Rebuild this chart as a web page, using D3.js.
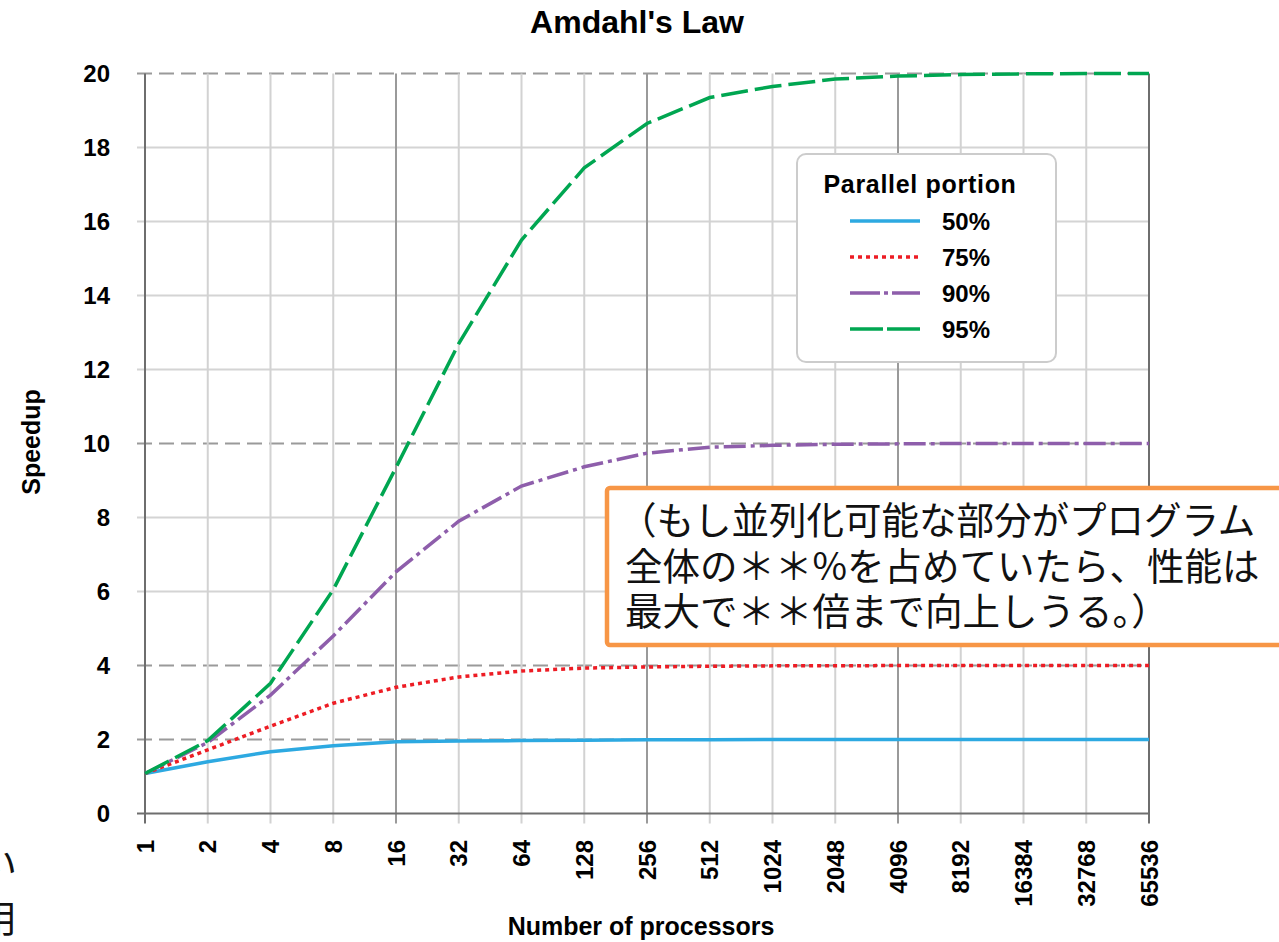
<!DOCTYPE html>
<html>
<head>
<meta charset="utf-8">
<script src="https://cdn.jsdelivr.net/npm/d3@7"></script>
<style>
  html, body { margin: 0; padding: 0; background: #fff; }
  svg { display: block; }
</style>
</head>
<body>
<svg id="chart" width="1279" height="942"></svg>
<script>
// ---- data ----
const processors = [1, 2, 4, 8, 16, 32, 64, 128, 256, 512, 1024, 2048, 4096, 8192, 16384, 32768, 65536];
const tickLabels = ["1","2","4","8","16","32","64","128","256","512","1024","2048","4096","8192","16384","32768","65536"];
const yTicks = [0, 2, 4, 6, 8, 10, 12, 14, 16, 18, 20];
const dashedY = [2, 4, 10, 20];
const majorX = [1, 16, 256, 4096, 65536];
const seriesNames = ["50%", "75%", "90%", "95%"];
const speedup50 = [1.08, 1.40, 1.67, 1.83, 1.94, 1.96, 1.97, 1.98, 1.99, 1.99, 2.0, 2.0, 2.0, 2.0, 2.0, 2.0, 2.0];
const speedup75 = [1.08, 1.72, 2.36, 2.98, 3.41, 3.69, 3.85, 3.93, 3.96, 3.98, 3.99, 3.99, 4.0, 4.0, 4.0, 4.0, 4.0];
const speedup90 = [1.08, 1.92, 3.2, 4.8, 6.53, 7.9, 8.85, 9.37, 9.74, 9.9, 9.95, 9.98, 9.99, 10.0, 10.0, 10.0, 10.0];
const speedup95 = [1.08, 1.97, 3.52, 6.05, 9.35, 12.7, 15.5, 17.45, 18.65, 19.35, 19.65, 19.85, 19.93, 19.97, 19.99, 20.0, 20.0];
const titleText = "Amdahl's Law";
const xTitle = "Number of processors";
const yTitle = "Speedup";
const legendTitle = "Parallel portion";
const noteLines = ["（もし並列化可能な部分がプログラム", "全体の＊＊%を占めていたら、性能は", "最大で＊＊倍まで向上しうる。）"];
const edgeFragments = ["い", "用"];

// ---- styles ----
const seriesStyle = [
  { color: "#2DA9E1", dash: null },
  { color: "#ED1C24", dash: "4,4" },
  { color: "#8E5EAB", dash: "22,5,4,5" },
  { color: "#00A651", dash: "27,7" }
];
const seriesData = [speedup50, speedup75, speedup90, speedup95];

const svg = d3.select("#chart");
const FONT = "'Liberation Sans', Arial, sans-serif";

const x = d3.scaleLog().base(2).domain([1, 65536]).range([145, 1149]);
const y = d3.scaleLinear().domain([0, 20]).range([813.5, 73.5]);

// horizontal grid
const hg = svg.append("g");
hg.selectAll("line").data(yTicks.filter(d => d !== 0)).join("line")
  .attr("x1", 137).attr("x2", x(65536))
  .attr("y1", d => y(d)).attr("y2", d => y(d))
  .attr("stroke", d => dashedY.includes(d) ? "#9a9a9a" : "#d4d4d4")
  .attr("stroke-width", 2)
  .attr("stroke-dasharray", d => dashedY.includes(d) ? "15,7" : null);

// vertical grid
const vg = svg.append("g");
vg.selectAll("line").data(processors).join("line")
  .attr("x1", d => x(d)).attr("x2", d => x(d))
  .attr("y1", y(20)).attr("y2", y(0) + 10)
  .attr("stroke", d => d === 1 || d === 65536 ? "#6e6e6e" : (majorX.includes(d) ? "#9a9a9a" : "#d2d2d2"))
  .attr("stroke-width", 2);

// x axis line
svg.append("line").attr("x1", 137).attr("x2", x(65536))
  .attr("y1", y(0)).attr("y2", y(0)).attr("stroke", "#6e6e6e").attr("stroke-width", 2);

// y tick labels
svg.append("g").selectAll("text").data(yTicks).join("text")
  .attr("x", 110).attr("y", d => y(d)).attr("dy", "0.36em")
  .attr("text-anchor", "end")
  .attr("font-family", FONT).attr("font-weight", "bold").attr("font-size", 24)
  .text(d => d);

// x tick labels
svg.append("g").selectAll("text").data(processors).join("text")
  .attr("transform", d => `translate(${x(d)},840) rotate(-90)`)
  .attr("dy", "0.36em")
  .attr("text-anchor", "end")
  .attr("font-family", FONT).attr("font-weight", "bold").attr("font-size", 24)
  .text((d, i) => tickLabels[i]);

// titles
svg.append("text").attr("x", 637).attr("y", 33).attr("text-anchor", "middle")
  .attr("font-family", FONT).attr("font-weight", "bold").attr("font-size", 32)
  .text(titleText);
svg.append("text").attr("x", 641).attr("y", 935).attr("text-anchor", "middle")
  .attr("font-family", FONT).attr("font-weight", "bold").attr("font-size", 25)
  .text(xTitle);
svg.append("text").attr("transform", "translate(40,442) rotate(-90)")
  .attr("text-anchor", "middle")
  .attr("font-family", FONT).attr("font-weight", "bold").attr("font-size", 25)
  .text(yTitle);

// series lines
const line = d3.line().x((d, i) => x(processors[i])).y(d => y(d));
svg.append("g").selectAll("path").data(seriesData).join("path")
  .attr("d", d => line(d))
  .attr("fill", "none")
  .attr("stroke", (d, i) => seriesStyle[i].color)
  .attr("stroke-width", 3.5)
  .attr("stroke-dasharray", (d, i) => seriesStyle[i].dash);

// legend
const lg = svg.append("g");
lg.append("rect").attr("x", 797).attr("y", 154).attr("width", 259).attr("height", 208)
  .attr("rx", 9).attr("fill", "#fff").attr("stroke", "#cccccc").attr("stroke-width", 2);
lg.append("text").attr("x", 920).attr("y", 193).attr("text-anchor", "middle")
  .attr("font-family", FONT).attr("font-weight", "bold").attr("font-size", 25)
  .attr("letter-spacing", 0.7)
  .text(legendTitle);
const legY = [221, 257, 293, 329];
seriesNames.forEach((name, i) => {
  lg.append("line").attr("x1", 850).attr("x2", 920).attr("y1", legY[i]).attr("y2", legY[i])
    .attr("stroke", seriesStyle[i].color).attr("stroke-width", 3.5)
    .attr("stroke-dasharray", i === 3 ? "33,4" : (i === 2 ? "30,4,4,4" : seriesStyle[i].dash));
  lg.append("text").attr("x", 942).attr("y", legY[i] + 9)
    .attr("font-family", FONT).attr("font-weight", "bold").attr("font-size", 24)
    .text(name);
});

// annotation box
const ng = svg.append("g");
ng.append("rect").attr("x", 607).attr("y", 488).attr("width", 700).attr("height", 157)
  .attr("rx", 3).attr("fill", "#fff").attr("stroke", "#F79646").attr("stroke-width", 4.5);
ng.selectAll("text").data(noteLines).join("text")
  .attr("x", (d, i) => i === 0 ? 619 : 625)
  .attr("y", (d, i) => 534 + i * 45.5)
  .attr("font-family", "'Noto Sans CJK JP', sans-serif").attr("font-size", 37.5)
  .attr("fill", "#111")
  .text(d => d);

// fragments cut off at left edge
svg.append("g").selectAll("text").data(edgeFragments).join("text")
  .attr("x", -21).attr("y", (d, i) => 878 + i * 54)
  .attr("font-family", "'Noto Sans CJK JP', sans-serif").attr("font-size", 38)
  .attr("fill", "#111")
  .text(d => d);
</script>
</body>
</html>
